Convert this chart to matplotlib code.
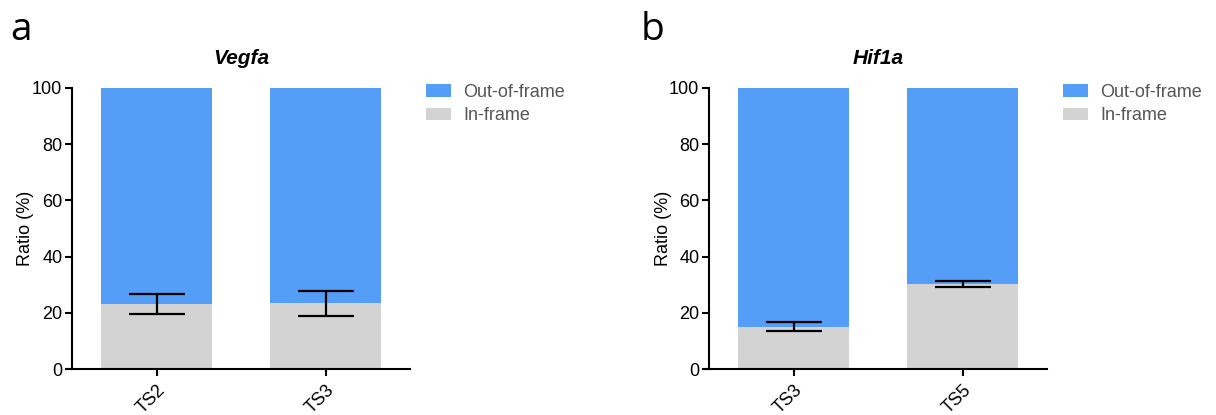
import matplotlib
matplotlib.use("Agg")
import matplotlib.pyplot as plt
from matplotlib.patches import Patch

plt.rcParams['font.family'] = ['Liberation Sans', 'DejaVu Sans']

# Data
titles = ["Vegfa", "Hif1a"]
panel_letters = ["a", "b"]
cats_a = ["TS2", "TS3"]
cats_b = ["TS3", "TS5"]
inframe_a = [23.1, 23.4]
inframe_err_a = [3.7, 4.5]
inframe_b = [15.1, 30.2]
inframe_err_b = [1.7, 1.0]
series_labels = ["Out-of-frame", "In-frame"]

blue = "#549EF8"
gray = "#D3D3D3"

fig = plt.figure(figsize=(12.16, 4.15), dpi=100)
W, H = 1216, 415

def make_panel(left_px, cats, inframe, err, title, letter, letter_x, legend_x):
    ax = fig.add_axes([left_px / W, (H - 369) / H, 338 / W, 281 / H])
    x = list(range(len(cats)))
    outframe = [100 - v for v in inframe]
    ax.bar(x, inframe, width=0.66, color=gray, zorder=1)
    ax.bar(x, outframe, bottom=inframe, width=0.66, color=blue, zorder=1)
    ax.errorbar(x, inframe, yerr=err, fmt='none', ecolor='black',
                elinewidth=1.6, capsize=20, capthick=1.6, zorder=3)
    ax.set_xlim(-0.5, 1.5)
    ax.set_ylim(0, 100)
    ax.set_yticks([0, 20, 40, 60, 80, 100])
    ax.set_xticks(x)
    ax.set_xticklabels(cats, rotation=45, ha='right', rotation_mode='anchor', fontsize=13)
    ax.tick_params(axis='both', direction='out', length=5, width=1.5, labelsize=13, pad=2)
    ax.tick_params(axis='x', pad=4)
    for s in ['top', 'right']:
        ax.spines[s].set_visible(False)
    for s in ['left', 'bottom']:
        ax.spines[s].set_linewidth(1.5)
    ax.spines['bottom'].set_bounds(-0.535, 1.5)
    ax.set_ylabel("Ratio (%)", fontsize=13, va='center')
    ax.yaxis.set_label_coords(-46 / 338, 0.5)
    ax.set_title(title, fontsize=15, fontweight='bold', style='italic', pad=17)
    fig.text(letter_x / W, 1 - 40 / H, letter, fontsize=28, family='Open Sans',
             va='baseline', ha='left')
    handles = [Patch(facecolor=blue, label=series_labels[0]),
               Patch(facecolor=gray, label=series_labels[1])]
    fig.legend(handles=handles, loc='upper left',
               bbox_to_anchor=(legend_x / W, 1 - 84 / H), frameon=False,
               fontsize=13, handlelength=1.4, handleheight=0.72,
               handletextpad=0.65, labelcolor='#555555', borderaxespad=0,
               borderpad=0, labelspacing=0.35)
    return ax

make_panel(72, cats_a, inframe_a, inframe_err_a, titles[0], panel_letters[0], 10, 426)
make_panel(709, cats_b, inframe_b, inframe_err_b, titles[1], panel_letters[1], 641, 1063)

fig.savefig("out.png", dpi=100)
